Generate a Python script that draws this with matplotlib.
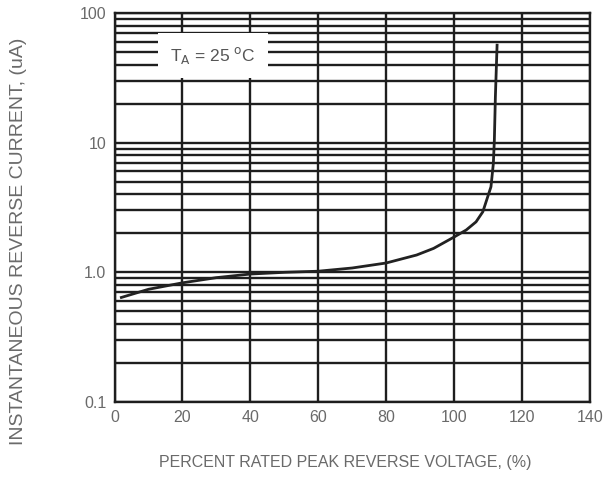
import matplotlib
matplotlib.use('Agg')
import matplotlib.pyplot as plt
from matplotlib.ticker import FixedLocator, LogLocator, NullFormatter

# ── data ──────────────────────────────────────────
voltage_pct = [2, 10, 20, 30, 40, 50, 60, 70, 80, 89, 94, 100, 103.6, 106.5,
               108.5, 110.9, 111.6, 111.9, 112.2, 112.7]
current_ua = [0.64, 0.74, 0.83, 0.91, 0.97, 1.0, 1.02, 1.08, 1.18, 1.36, 1.53,
              1.87, 2.12, 2.45, 2.93, 4.57, 6.9, 10.5, 22.6, 56.5]

x_ticks = [0, 20, 40, 60, 80, 100, 120, 140]
x_tick_labels = ['0', '20', '40', '60', '80', '100', '120', '140']
y_ticks = [0.1, 1.0, 10, 100]
y_tick_labels = ['0.1', '1.0', '10', '100']

plt.rcParams['font.family'] = ['Liberation Sans', 'DejaVu Sans']
grid_c = '#1e1e1e'
text_c = '#6a6a6a'

fig = plt.figure(figsize=(6.03, 4.82), dpi=100)
ax = fig.add_axes([0.190, 0.166, 0.788, 0.807])

ax.set_yscale('log')
ax.set_xlim(0, 140)
ax.set_ylim(0.1, 100)

ax.xaxis.set_major_locator(FixedLocator(x_ticks))
ax.set_xticklabels(x_tick_labels)
ax.yaxis.set_major_locator(FixedLocator(y_ticks))
ax.set_yticklabels(y_tick_labels)
ax.yaxis.set_minor_locator(LogLocator(base=10, subs=range(2, 10)))
ax.yaxis.set_minor_formatter(NullFormatter())

ax.grid(True, which='both', axis='y', color=grid_c, linewidth=1.7)
ax.grid(True, which='major', axis='x', color=grid_c, linewidth=1.7)
ax.tick_params(which='both', length=0, colors=text_c, labelsize=11.5, pad=6)
for s in ax.spines.values():
    s.set_color(grid_c)
    s.set_linewidth(1.7)

ax.plot(voltage_pct, current_ua, color='#222222', linewidth=2.0, zorder=3)

ax.text(29, 47, r'T$_\mathrm{A}$ = 25 $^\mathrm{o}$C', ha='center', va='center',
        fontsize=12.5, color='#555555', zorder=4,
        bbox=dict(boxstyle='square', facecolor='white', edgecolor='none', pad=0.7))

fig.text(0.03, 0.5, 'INSTANTANEOUS REVERSE CURRENT, (uA)', rotation=90,
         ha='center', va='center', fontsize=14, color=text_c)
fig.text(0.572, 0.041, 'PERCENT RATED PEAK REVERSE VOLTAGE, (%)',
         ha='center', va='center', fontsize=11.5, color=text_c)

fig.savefig('out.png', dpi=100)
